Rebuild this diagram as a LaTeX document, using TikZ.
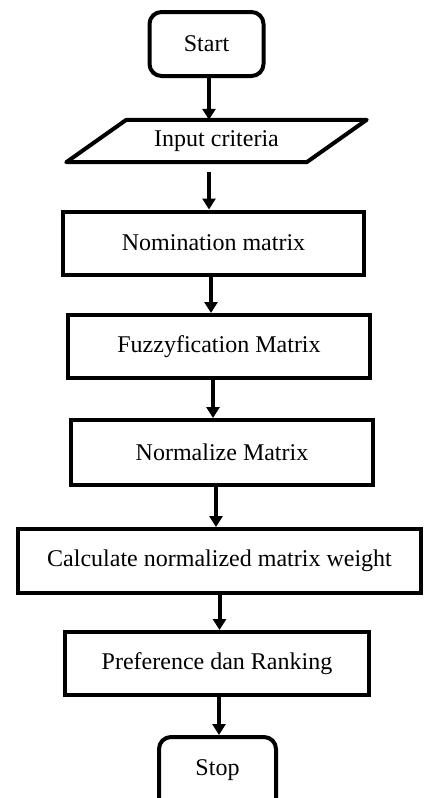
\documentclass[tikz,border=0pt]{standalone}
\usepackage{fontspec}
\setmainfont{Liberation Serif}
\usetikzlibrary{arrows.meta}
\tikzset{
    txt/.style={font=\fontsize{24}{28}\selectfont,inner sep=0pt},
    box/.style={txt,draw,line width=4pt,minimum height=63pt},
    term/.style={box,rounded corners=12pt,minimum height=64pt},
    arr/.style={line width=4pt,-{Triangle[width=13pt,length=11pt]}}
}
\begin{document}
\begin{tikzpicture}[x=1pt,y=-1pt]
        \useasboundingbox (0,0) rectangle (424,798);
        %terminals
        \node[term,minimum width=114pt] (start) at (206.5,44) {Start};
        \node[term,minimum width=117pt,minimum height=80pt,text depth=19pt] (stop) at (217.5,777) {Stop};
        %input
        \node[txt,minimum width=240pt,minimum height=42pt] (input) at (216.5,141) {Input criteria};
        \draw[line width=4pt,line join=round]
                ([xshift=30pt]input.north west) -- ([xshift=30pt]input.north east)
                -- ([xshift=-30pt]input.south east) -- ([xshift=-30pt]input.south west) -- cycle;
        %steps
        \node[box,minimum width=301pt] (nom) at (213.5,243) {Nomination matrix};
        \node[box,minimum width=302pt] (fuz) at (219,346.5) {Fuzzyfication Matrix};
        \node[box,minimum width=302pt,minimum height=65pt] (norm) at (222,452.5) {Normalize Matrix};
        \node[box,minimum width=403pt,minimum height=64pt] (calc) at (219.5,561) {Calculate normalized matrix weight};
        \node[box,minimum width=304pt] (pref) at (217,663.5) {Preference dan Ranking};
        %arrows
        \foreach \a/\b/\d in {start/input/2.5,nom/fuz/-2.5,fuz/norm/-6,norm/calc/-6,calc/pref/0,pref/stop/2}
            \draw[arr] ([xshift=\d pt]\a.south) -- ([xshift=\d pt]\a.south |- \b.north);
        \draw[arr] ([xshift=-7.5pt,yshift=-10pt]input.south) -- ([xshift=-7.5pt]input.south |- nom.north);
    \end{tikzpicture}
\end{document}
